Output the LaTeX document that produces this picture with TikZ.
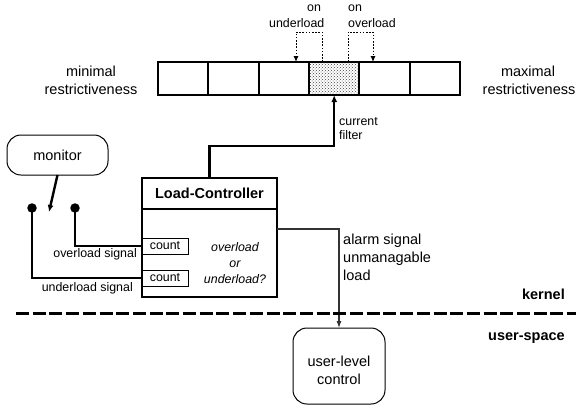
\documentclass[tikz,border=0pt]{standalone}
\usepackage{fontspec}
\setmainfont{Liberation Sans}
\usetikzlibrary{arrows.meta,patterns}
\begin{document}
\begin{tikzpicture}[x=1pt,y=-1pt,
  big/.style={font=\fontsize{14.5}{17}\selectfont, inner sep=0pt},
  sml/.style={font=\fontsize{12.4}{14}\selectfont, inner sep=0pt},
  cell/.style={draw, line width=2.1pt, minimum width=50.33pt, minimum height=33pt, inner sep=0pt, outer sep=0pt},
  rbox/.style={draw, line width=1pt, rounded corners=14pt, inner sep=0pt, outer sep=0pt},
  lcbox/.style={draw, line width=1.3pt, minimum width=135pt, inner sep=0pt, outer sep=0pt},
  cntbox/.style={draw, line width=0.9pt, minimum width=46pt, minimum height=16pt, inner sep=0pt, outer sep=0pt, font=\fontsize{12.4}{14}\selectfont},
  thk/.style={line width=2.4pt},
  tip/.style={-{Latex[length=7pt,width=6pt]}},
  dotarrow/.style={line width=1pt, dash pattern=on 1.6pt off 1.6pt, -{Latex[length=6pt,width=5pt]}},
  dot/.style={circle, fill=black, minimum size=9.5pt, inner sep=0pt}
]
\useasboundingbox (0,0) rectangle (576,408);

% filter bar
\node[cell] (c1) at (183.2,78.5) {};
\node[cell] (c2) at (233.5,78.5) {};
\node[cell] (c3) at (283.8,78.5) {};
\node[cell, pattern=crosshatch dots, pattern color=black!75] (c4) at (334.2,78.5) {};
\node[cell] (c5) at (384.5,78.5) {};
\node[cell] (c6) at (434.8,78.5) {};

% dotted arrows
\coordinate (u1) at (322,32);
\coordinate (u2) at (296,32);
\coordinate (o1) at (348,32);
\coordinate (o2) at (373,32);
\draw[dotarrow] (c4.north -| u1) -- (u1) -- (u2) -- (u2 |- c3.north);
\draw[dotarrow] (c4.north -| o1) -- (o1) -- (o2) -- (o2 |- c5.north);
\node[sml, anchor=base west] (onu) at (307,11) {on};
\node[sml, anchor=base west] (unl) at (269,27.7) {underload};
\node[sml, anchor=base west] (ono) at (348,11) {on};
\node[sml, anchor=base west] (ovl) at (348,27.7) {overload};

% side labels
\node[big, anchor=base] (min1) at (91,76.7) {minimal};
\node[big, anchor=base] (min2) at (91,94.3) {restrictiveness};
\node[big, anchor=base] (max1) at (528,76.7) {maximal};
\node[big, anchor=base] (max2) at (529,94.3) {restrictiveness};

% monitor
\node[rbox, minimum width=101pt, minimum height=40pt] (mon) at (57.5,155) {};
\node[big, anchor=base] (montxt) at (57.5,160) {monitor};
\coordinate (mtip) at (49,212);
\draw[thk, tip] (mon.south) -- (mtip);

% dots
\node[dot] (d1) at (32,208) {};
\node[dot] (d2) at (75,208) {};

% Load controller
\node[lcbox, minimum height=31pt] (lct) at (209.5,193.5) {};
\node[big, anchor=base, font=\fontsize{14.5}{17}\selectfont\bfseries] (lcttxt) at (209.5,198) {Load-Controller};
\node[lcbox, minimum height=88pt] (lcb) at (209.5,253) {};
\node[cntbox] (cnt1) at (165,246) {count};
\node[cntbox] (cnt2) at (165,278) {count};
\node[sml, anchor=base, font=\fontsize{12.4}{14}\selectfont\itshape] (q1) at (235,251) {overload};
\node[sml, anchor=base, font=\fontsize{12.4}{14}\selectfont\itshape] (q2) at (235,267) {or};
\node[sml, anchor=base, font=\fontsize{12.4}{14}\selectfont\itshape] (q3) at (235,283) {underload?};

% signal lines
\draw[thk] (d2.center) |- (cnt1.west);
\draw[thk] (d1.center) |- (cnt2.west);
\node[sml, anchor=base east] (ovs) at (137,257) {overload signal};
\node[sml, anchor=base east] (uns) at (133,291) {underload signal};

% current filter
\coordinate (cf) at (334.2,146);
\draw[thk, tip] (lct.north) |- (cf) -- (c4.south);
\node[sml, anchor=base west] (cur1) at (339,125) {current};
\node[sml, anchor=base west] (cur2) at (339,139) {filter};

% user-level control
\node[rbox, minimum width=92pt, minimum height=76pt] (ulc) at (339,366) {};
\node[big, anchor=base] (ulc1) at (339,366.7) {user-level};
\node[big, anchor=base] (ulc2) at (339,384) {control};

% alarm
\coordinate (al) at (339,229);
\draw[line width=1.1pt, black!80, -{Latex[length=7pt,width=5pt]}] (lcb.east |- al) -- (al) -- (ulc.north);
\node[big, anchor=base west] (al1) at (343,244) {alarm signal};
\node[big, anchor=base west] (al2) at (343,262) {unmanagable};
\node[big, anchor=base west] (al3) at (343,280) {load};

% kernel / user-space separator
\coordinate (dl) at (16,313);
\coordinate (dr) at (576,313);
\draw[line width=3pt, dash pattern=on 13pt off 3.7pt] (dl) -- (dr);
\node[big, anchor=base east, font=\fontsize{14.5}{17}\selectfont\bfseries] (kern) at (565,299) {kernel};
\node[big, anchor=base east, font=\fontsize{14.5}{17}\selectfont\bfseries] (usp) at (565,340) {user-space};
\end{tikzpicture}
\end{document}
